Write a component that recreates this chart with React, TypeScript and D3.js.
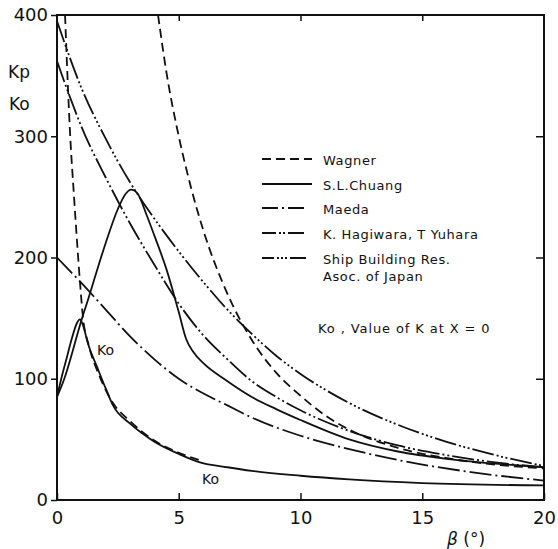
import React, { useEffect, useRef } from 'react';
import * as d3 from 'd3';

// values, [beta (deg), K]
const wagnerKp = [[4.15, 400], [4.5, 352], [5, 300], [5.5, 258], [6, 223], [7, 170], [8, 132], [9, 105], [10, 86], [11, 70], [12, 58], [14, 43], [16.5, 33], [20, 26]];
const wagnerKo = [[0.33, 400], [0.45, 340], [0.53, 305], [0.7, 250], [0.82, 214], [0.95, 178], [1.07, 150], [1.3, 128], [1.77, 101], [2.3, 80], [3, 65], [4, 49], [5, 39], [6, 32]];
const chuangKp = [[0, 85], [0.3, 100], [0.66, 124], [1, 148], [1.27, 165], [1.5, 180], [2, 212], [2.5, 240], [2.8, 252], [3.05, 256], [3.3, 253], [3.7, 234], [4, 218], [4.5, 190], [5, 155], [5.3, 133], [5.6, 122], [6, 113], [7, 98], [8, 85], [9, 75], [10, 66], [12, 50], [14, 40], [16, 34], [18, 30], [20, 27]];
const chuangKo = [[0, 85], [0.2, 102], [0.41, 118], [0.62, 134], [0.82, 146], [0.94, 149], [1.07, 144], [1.27, 129], [1.64, 110], [2, 92], [2.3, 78], [3, 63], [3.5, 55], [4, 48], [5, 38], [5.87, 31], [7, 27], [8, 24], [10, 20], [12, 17], [15, 14], [20, 12]];
const maeda = [[0, 200], [1, 179], [2, 157], [3, 135], [4, 116], [5, 100], [6, 88], [7, 78], [8, 68], [10, 53], [12, 42], [14, 33], [17, 23], [20, 16]];
const hagiwara = [[0, 362], [0.5, 334], [1, 308], [2, 266], [3, 228], [4, 194], [5, 162], [6, 136], [7, 116], [8, 98], [9, 85], [10, 74], [12, 57], [14, 45], [16, 37], [18, 31], [20, 27]];
const shipBuilding = [[0, 395], [1, 340], [2, 298], [3, 262], [4, 232], [5, 205], [6, 180], [7, 157], [8, 137], [9, 119], [10, 104], [12, 80], [14, 62], [16, 48], [18, 37], [20, 28]];

const xTicks = [0, 5, 10, 15, 20];
const yTicks = [0, 100, 200, 300, 400];
const legendNames = ['Wagner', 'S.L.Chuang', 'Maeda', 'K. Hagiwara, T Yuhara', 'Ship Building Res.'];

const dashes = {
  wagner: '9,5',
  chuang: null,
  maeda: '22,4,2,4',
  hagiwara: '22,3,2,3,2,3',
  ship: '22,3,2,2.5,2,2.5,2,3',
};

const App = () => {
  const svgRef = useRef(null);

  useEffect(() => {
    const svg = d3.select(svgRef.current);
    svg.selectAll('*').remove();

    const left = 57, right = 544, top = 15, bottom = 500;
    const x = d3.scaleLinear().domain([0, 20]).range([left, right]);
    const y = d3.scaleLinear().domain([0, 400]).range([bottom, top]);
    const font = 'DejaVu Sans, sans-serif';

    svg.append('defs').append('clipPath').attr('id', 'plot')
      .append('rect').attr('x', left).attr('y', top)
      .attr('width', right - left).attr('height', bottom - top);

    // axes
    const gx = svg.append('g').attr('transform', `translate(0,${bottom})`)
      .call(d3.axisBottom(x).tickValues(xTicks).tickSize(-7).tickPadding(11));
    const gxTop = svg.append('g').attr('transform', `translate(0,${top})`)
      .call(d3.axisTop(x).tickValues([5, 10, 15]).tickSize(-6).tickFormat(() => ''));
    const gy = svg.append('g').attr('transform', `translate(${left},0)`)
      .call(d3.axisLeft(y).tickValues(yTicks).tickSize(6).tickPadding(3));
    const gyRight = svg.append('g').attr('transform', `translate(${right},0)`)
      .call(d3.axisRight(y).tickValues([100, 200, 300]).tickSize(-8).tickFormat(() => ''));

    [gx, gxTop, gy, gyRight].forEach(g => {
      g.select('.domain').remove();
      g.selectAll('line').attr('stroke', '#111').attr('stroke-width', 1.5);
      g.selectAll('text').attr('fill', '#111').style('font-family', font).style('font-size', '18px');
    });

    svg.append('rect')
      .attr('x', left).attr('y', top)
      .attr('width', right - left).attr('height', bottom - top)
      .attr('fill', 'none').attr('stroke', '#111').attr('stroke-width', 2);

    // curves
    const line = d3.line().x(d => x(d[0])).y(d => y(d[1])).curve(d3.curveMonotoneX);
    const curves = [
      [wagnerKp, dashes.wagner],
      [wagnerKo, dashes.wagner],
      [chuangKp, dashes.chuang],
      [chuangKo, dashes.chuang],
      [maeda, dashes.maeda],
      [hagiwara, dashes.hagiwara],
      [shipBuilding, dashes.ship],
    ];
    const plot = svg.append('g').attr('clip-path', 'url(#plot)');
    curves.forEach(([data, dash]) => {
      plot.append('path')
        .attr('d', line(data))
        .attr('fill', 'none')
        .attr('stroke', '#111')
        .attr('stroke-width', 1.8)
        .attr('stroke-dasharray', dash);
    });

    // legend
    const legendDash = [dashes.wagner, dashes.chuang, '16,4,2,4,16', '14,3,2,2,2,3,16', '12,3,2,2,2,2,2,3,16'];
    const rowY = [165, 190, 214, 239, 264];
    legendNames.forEach((name, i) => {
      svg.append('line')
        .attr('x1', 262).attr('x2', 312)
        .attr('y1', rowY[i] - 6).attr('y2', rowY[i] - 6)
        .attr('stroke', '#111').attr('stroke-width', 1.8)
        .attr('stroke-dasharray', legendDash[i]);
      svg.append('text')
        .attr('x', 323).attr('y', rowY[i])
        .style('font-family', font).style('font-size', '13px').style('letter-spacing', '0.6px')
        .attr('fill', '#111').text(name);
    });
    svg.append('text')
      .attr('x', 323).attr('y', 281)
      .style('font-family', font).style('font-size', '13px').style('letter-spacing', '0.6px')
      .attr('fill', '#111').text('Asoc. of Japan');

    // annotations
    const label = (tx, ty, t, size) => svg.append('text')
      .attr('x', tx).attr('y', ty)
      .style('font-family', font).style('font-size', size)
      .attr('fill', '#111').text(t);

    label(318, 333, 'Ko , Value of K at X = 0', '13px').style('letter-spacing', '0.9px');
    label(97, 355, 'Ko', '14px');
    label(202, 484, 'Ko', '14px');
    label(8, 78, 'Kp', '17px');
    label(9, 110, 'Ko', '17px');

    const beta = svg.append('text').attr('x', 447).attr('y', 545)
      .style('font-family', font).style('font-size', '17px').attr('fill', '#111');
    beta.append('tspan').style('font-style', 'italic').text('β');
    beta.append('tspan').text(' (°)');
  }, []);

  return (
    <div style={{ position: 'absolute', left: 0, top: 0 }}>
      <svg ref={svgRef} width={558} height={549} style={{ display: 'block', background: '#fff' }}></svg>
    </div>
  );
};

export default App;
